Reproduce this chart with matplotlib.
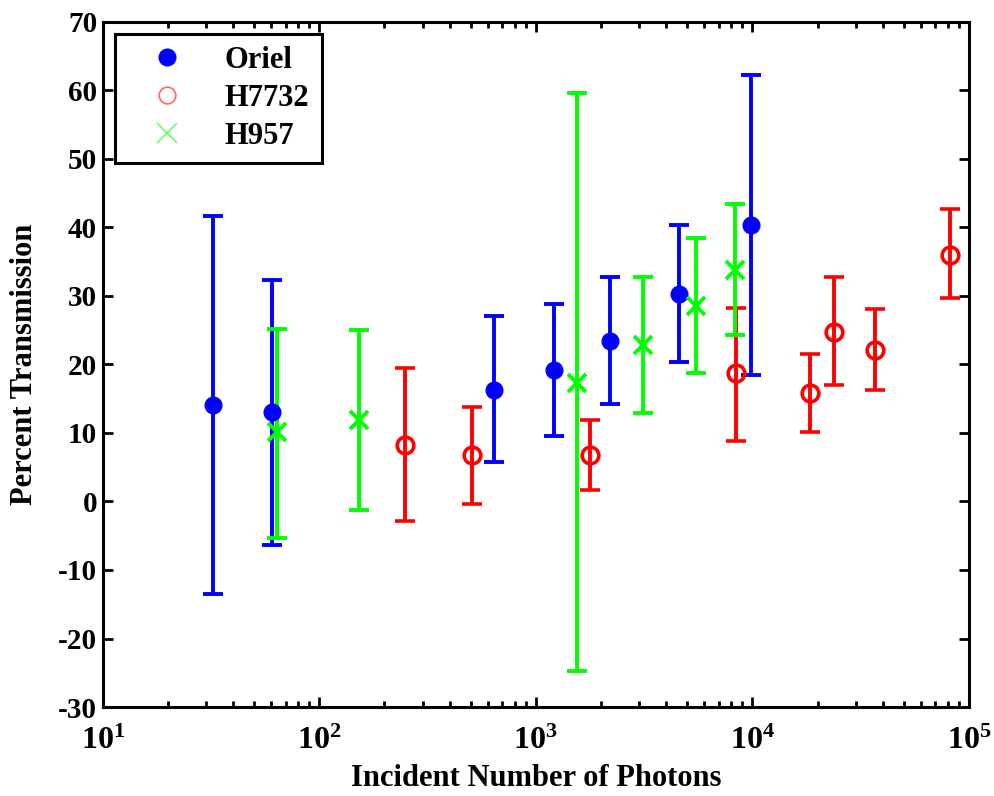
import matplotlib
matplotlib.use("Agg")
from matplotlib import pyplot as plt
from matplotlib.lines import Line2D
from matplotlib.ticker import LogLocator, NullFormatter

plt.rcParams['font.family'] = 'Liberation Serif'
plt.rcParams['font.weight'] = 'bold'
plt.rcParams['axes.unicode_minus'] = False
plt.rcParams['mathtext.fontset'] = 'custom'
plt.rcParams['mathtext.rm'] = 'Liberation Serif:bold'
plt.rcParams['mathtext.it'] = 'Liberation Serif:bold'
plt.rcParams['mathtext.bf'] = 'Liberation Serif:bold'

# photon counts, transmission (%), and error bar ends
oriel_x = [32.4, 60.4, 641, 1216, 2203, 4571, 9818]
oriel_y = [14.1, 13.0, 16.3, 19.2, 23.4, 30.3, 40.3]
oriel_hi = [41.7, 32.4, 27.1, 28.9, 32.7, 40.3, 62.3]
oriel_lo = [-13.5, -6.4, 5.7, 9.5, 14.2, 20.4, 18.5]

h7732_x = [248, 509, 1783, 8433, 18400, 23870, 36800, 81900]
h7732_y = [8.2, 6.8, 6.8, 18.7, 15.9, 24.8, 22.1, 36.0]
h7732_hi = [19.5, 13.8, 11.9, 28.2, 21.6, 32.8, 28.1, 42.7]
h7732_lo = [-2.9, -0.3, 1.7, 8.8, 10.2, 17.0, 16.3, 29.7]

h957_x = [63.6, 153, 1549, 3119, 5506, 8278]
h957_y = [10.1, 11.9, 17.3, 22.8, 28.6, 33.8]
h957_hi = [25.2, 25.1, 59.6, 32.7, 38.5, 43.5]
h957_lo = [-5.3, -1.2, -24.8, 12.9, 18.8, 24.3]


def yerr(y, lo, hi):
    return [[y[i] - lo[i] for i in range(len(y))], [hi[i] - y[i] for i in range(len(y))]]


def main():
    fig = plt.figure(figsize=(9.95, 7.96), dpi=100)
    ax = fig.add_axes([0.1032, 0.1118, 0.8706, 0.8606])

    style = dict(linestyle='none', elinewidth=2.8, capsize=7, capthick=2.8)
    ax.errorbar(oriel_x, oriel_y, yerr=yerr(oriel_y, oriel_lo, oriel_hi), color='#0000ff',
                marker='o', markersize=12, **style)
    ax.errorbar(h7732_x, h7732_y, yerr=yerr(h7732_y, h7732_lo, h7732_hi), color='#ff0000',
                marker='o', markersize=12, markerfacecolor='none', markeredgewidth=2.6, **style)
    ax.errorbar(h957_x, h957_y, yerr=yerr(h957_y, h957_lo, h957_hi), color='#00ff00',
                marker='x', markersize=13, markeredgewidth=2.8, **style)

    ax.set_xscale('log')
    ax.set_xlim(10, 1e5)
    ax.set_ylim(-30, 70)
    ax.set_yticks(range(-30, 71, 10))
    ax.xaxis.set_major_locator(LogLocator(base=10, numticks=10))
    ax.xaxis.set_minor_locator(LogLocator(base=10, subs=range(2, 10), numticks=20))
    ax.xaxis.set_minor_formatter(NullFormatter())

    ax.tick_params(which='both', direction='in', top=True, right=True, width=2)
    ax.tick_params(axis='y', labelsize=21, pad=4)
    ax.tick_params(axis='x', labelsize=23, pad=14)
    ax.tick_params(which='major', length=7)
    ax.tick_params(which='minor', length=4)
    for s in ax.spines.values():
        s.set_linewidth(2.2)

    ax.set_xlabel('Incident Number of Photons', fontsize=22, fontweight='bold', labelpad=6)
    ax.set_ylabel('Percent Transmission', fontsize=22, fontweight='bold', labelpad=14)

    handles = [
        Line2D([], [], color='#0000ff', marker='o', linestyle='none', markersize=12),
        Line2D([], [], color='#ff6666', marker='o', linestyle='none', markersize=12,
               markerfacecolor='none', markeredgewidth=1.2),
        Line2D([], [], color='#66ff66', marker='x', linestyle='none', markersize=14,
               markeredgewidth=1.2),
    ]
    leg = ax.legend(handles, ['Oriel', 'H7732', 'H957'], loc='upper left',
                    bbox_to_anchor=(0.014, 0.983), fontsize=22, fancybox=False,
                    edgecolor='black', framealpha=1, borderaxespad=0,
                    handletextpad=0.6, labelspacing=0.3, borderpad=0.4, handlelength=2.6)
    leg.get_frame().set_linewidth(2.2)

    fig.savefig('out.png', dpi=100)


if __name__ == '__main__':
    main()
